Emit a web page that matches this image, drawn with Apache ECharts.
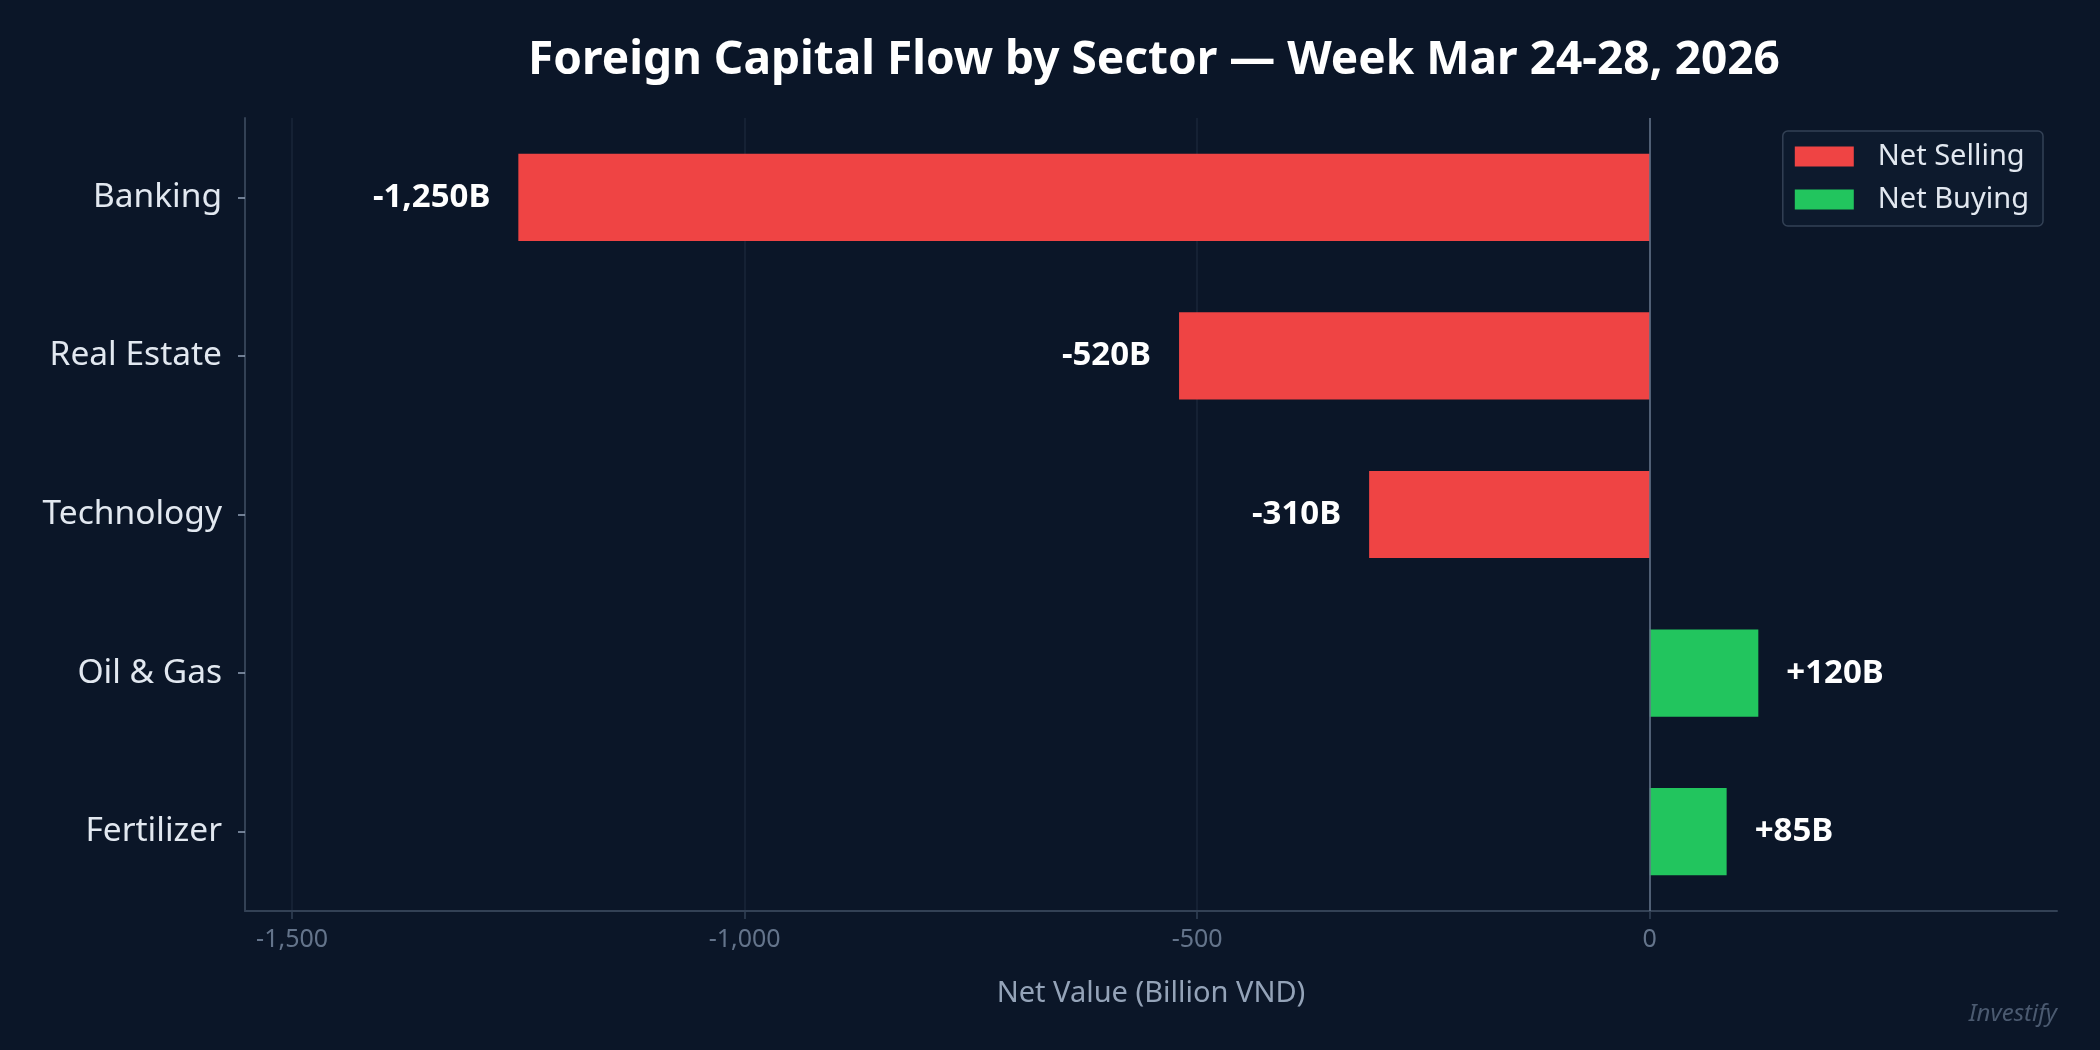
<!DOCTYPE html>
<html>
<head>
<meta charset="utf-8">
<script src="https://cdn.jsdelivr.net/npm/echarts@6/dist/echarts.min.js"></script>
<style>
html,body{margin:0;padding:0;background:#0b1628;}
#chart{width:2100px;height:1050px;}
</style>
</head>
<body>
<div id="chart"></div>
<script>
const categories = ['Banking', 'Real Estate', 'Technology', 'Oil & Gas', 'Fertilizer'];
const netValues = [-1250, -520, -310, 120, 85];
const xTicks = [-1500, -1000, -500, 0];
const titleText = 'Foreign Capital Flow by Sector — Week Mar 24-28, 2026';

const sellingData = netValues.map(v => v < 0 ? v : null);
const buyingData = netValues.map(v => v >= 0 ? v : null);

function fmtNum(v) {
  return v.toLocaleString('en-US');
}
function fmtLabel(v) {
  return (v > 0 ? '+' : '') + v.toLocaleString('en-US') + 'B';
}

const chart = echarts.init(document.getElementById('chart'));
const FONT = 'Noto Sans';
chart.setOption({
  backgroundColor: '#0b1628',
  animation: false,
  textStyle: { fontFamily: FONT },
  title: {
    text: titleText,
    left: 1149,
    textAlign: 'center',
    top: 33,
    textStyle: { color: '#ffffff', fontSize: 46, fontWeight: 'bold', fontFamily: FONT }
  },
  legend: {
    orient: 'vertical',
    right: 57,
    top: 131,
    padding: [11, 14, 12, 12],
    itemWidth: 59,
    itemHeight: 20,
    itemGap: 14,
    icon: 'rect',
    backgroundColor: '#0d1a2d',
    borderColor: '#334155',
    borderWidth: 1.5,
    borderRadius: 5,
    textStyle: { color: '#e2e8f0', fontSize: 29, fontFamily: FONT, padding: [0, 0, 0, 19] },
    data: ['Net Selling', 'Net Buying']
  },
  graphic: [{
    type: 'text',
    right: 43,
    bottom: 24,
    style: { text: 'Investify', fill: '#4b5a70', font: 'italic 24px "Noto Sans"' }
  }],
  grid: { left: 245, right: 43, top: 118, bottom: 139, containLabel: false },
  xAxis: {
    type: 'value',
    min: -1552,
    max: 450,
    name: 'Net Value (Billion VND)',
    nameLocation: 'middle',
    nameGap: 68,
    nameTextStyle: { color: '#94a3b8', fontSize: 29, fontFamily: FONT },
    axisLine: { show: true, onZero: false, lineStyle: { color: '#334155', width: 2 } },
    axisTick: { show: true, length: 8, customValues: xTicks, lineStyle: { color: '#334155', width: 1.5 } },
    axisLabel: { customValues: xTicks, color: '#64748b', fontSize: 25, margin: 16, formatter: fmtNum },
    splitLine: { show: true, customValues: xTicks, lineStyle: { color: '#1a2639', width: 1.5 } }
  },
  yAxis: {
    type: 'category',
    inverse: true,
    data: categories,
    axisLine: { show: true, onZero: false, lineStyle: { color: '#334155', width: 2 } },
    axisTick: { show: true, alignWithLabel: true, length: 7, lineStyle: { color: '#94a3b8', width: 1.5 } },
    axisLabel: { color: '#e2e8f0', fontSize: 33.5, margin: 23 },
    splitLine: { show: false }
  },
  series: [
    {
      name: 'Net Selling',
      type: 'bar',
      stack: 'flow',
      barWidth: '55%',
      data: sellingData,
      itemStyle: { color: '#ef4444' },
      label: {
        show: true,
        position: 'left',
        distance: 28,
        color: '#ffffff',
        fontWeight: 'bold',
        fontSize: 33,
        formatter: p => fmtLabel(p.value)
      },
      markLine: {
        silent: true,
        symbol: 'none',
        label: { show: false },
        lineStyle: { color: '#64748b', width: 1.5, type: 'solid' },
        data: [{ xAxis: 0 }]
      }
    },
    {
      name: 'Net Buying',
      type: 'bar',
      stack: 'flow',
      barWidth: '55%',
      data: buyingData,
      itemStyle: { color: '#22c55e' },
      label: {
        show: true,
        position: 'right',
        distance: 28,
        color: '#ffffff',
        fontWeight: 'bold',
        fontSize: 33,
        formatter: p => fmtLabel(p.value)
      }
    }
  ]
});
</script>
</body>
</html>
